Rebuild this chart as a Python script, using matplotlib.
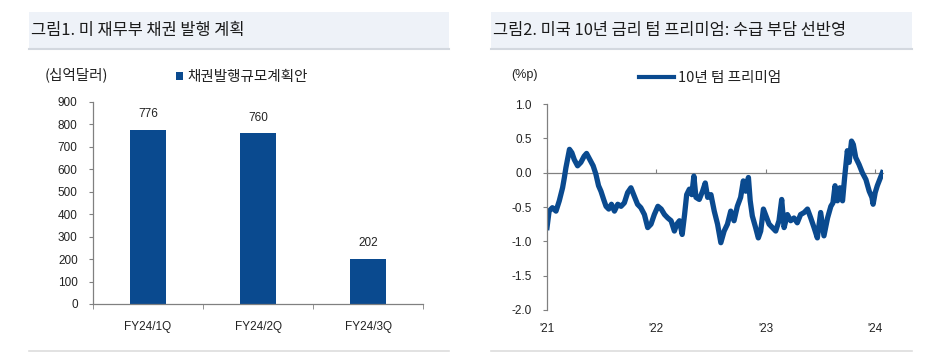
import numpy as np
import pandas as pd
import matplotlib
matplotlib.use('Agg')
import matplotlib.pyplot as plt
from matplotlib.patches import Rectangle, Patch
from matplotlib.lines import Line2D

plt.rcParams['font.family'] = ['Liberation Sans', 'Noto Sans CJK KR', 'DejaVu Sans']
KR = ['Noto Sans CJK KR', 'DejaVu Sans']

# left chart: treasury issuance plan (bil. USD)
quarters = ['FY24/1Q', 'FY24/2Q', 'FY24/3Q']
issuance = [776, 760, 202]

# right chart: 10y term premium (%p)
tp_dates = ['2021-01-01', '2021-01-08', '2021-01-19', '2021-01-31', '2021-02-11', '2021-02-22',
            '2021-02-28', '2021-03-05', '2021-03-17', '2021-03-25', '2021-04-02', '2021-04-13',
            '2021-04-24', '2021-05-05', '2021-05-13', '2021-05-24', '2021-06-04', '2021-06-13',
            '2021-06-22', '2021-06-30', '2021-07-09', '2021-07-17', '2021-07-26', '2021-08-04',
            '2021-08-14', '2021-08-25', '2021-09-05', '2021-09-16', '2021-09-27', '2021-10-08',
            '2021-10-19', '2021-10-30', '2021-11-10', '2021-11-22', '2021-12-03', '2021-12-14',
            '2021-12-25', '2022-01-06', '2022-01-17', '2022-01-28', '2022-02-08', '2022-02-19',
            '2022-03-02', '2022-03-10', '2022-03-19', '2022-03-28', '2022-04-05', '2022-04-12',
            '2022-04-21', '2022-04-29', '2022-05-06', '2022-05-13', '2022-05-24', '2022-06-04',
            '2022-06-13', '2022-06-21', '2022-07-02', '2022-07-13', '2022-07-24', '2022-08-04',
            '2022-08-15', '2022-08-26', '2022-09-06', '2022-09-17', '2022-09-28', '2022-10-09',
            '2022-10-18', '2022-10-26', '2022-11-04', '2022-11-10', '2022-11-17', '2022-11-28',
            '2022-12-07', '2022-12-15', '2022-12-24', '2023-01-12', '2023-01-23', '2023-02-03',
            '2023-02-14', '2023-02-23', '2023-03-03', '2023-03-14', '2023-03-25', '2023-04-05',
            '2023-04-16', '2023-04-27', '2023-05-09', '2023-05-20', '2023-05-31', '2023-06-11',
            '2023-06-22', '2023-07-03', '2023-07-14', '2023-07-26', '2023-08-06', '2023-08-13',
            '2023-08-20', '2023-08-28', '2023-09-05', '2023-09-14', '2023-09-21', '2023-09-30',
            '2023-10-06', '2023-10-14', '2023-10-20', '2023-10-28', '2023-11-08', '2023-11-19',
            '2023-12-01', '2023-12-12', '2023-12-21', '2023-12-25', '2024-01-01', '2024-01-08',
            '2024-01-16', '2024-01-25']
tp_values = [-0.80, -0.56, -0.51, -0.56, -0.41, -0.22,
             -0.07, 0.07, 0.34, 0.29, 0.19, 0.10,
             0.15, 0.24, 0.28, 0.19, 0.10, -0.02,
             -0.19, -0.27, -0.39, -0.49, -0.53, -0.46,
             -0.56, -0.46, -0.49, -0.44, -0.29, -0.22,
             -0.34, -0.46, -0.51, -0.61, -0.80, -0.75,
             -0.61, -0.49, -0.53, -0.61, -0.66, -0.70,
             -0.85, -0.75, -0.70, -0.90, -0.61, -0.32,
             -0.24, -0.32, -0.05, -0.36, -0.39, -0.27,
             -0.15, -0.36, -0.32, -0.56, -0.75, -1.02,
             -0.85, -0.75, -0.56, -0.70, -0.49, -0.36,
             -0.12, -0.27, -0.07, -0.41, -0.63, -0.80,
             -0.95, -0.85, -0.53, -0.75, -0.80, -0.85,
             -0.70, -0.39, -0.80, -0.61, -0.70, -0.66,
             -0.73, -0.61, -0.58, -0.53, -0.66, -0.80,
             -0.95, -0.58, -0.92, -0.66, -0.49, -0.44,
             -0.19, -0.41, -0.22, -0.41, -0.07, 0.32,
             0.15, 0.46, 0.41, 0.22, 0.12, 0.00,
             -0.10, -0.27, -0.36, -0.46, -0.29, -0.19,
             -0.10, 0.00]
year_ticks = ['2021-01-01', '2022-01-01', '2023-01-01', '2024-01-01']
year_labels = ["'21", "'22", "'23", "'24"]

blue = '#0a4a8f'
axis_gray = '#808080'
text_col = '#222222'

W, H = 932, 352
fig = plt.figure(figsize=(W / 100, H / 100), dpi=100)


def px(x0, y0, x1, y1):
    # pixel box -> figure fraction rect
    return [x0 / W, 1 - y1 / H, (x1 - x0) / W, (y1 - y0) / H]


# title bands and separators
for (bx0, bx1, title) in [(29, 449, '그림1. 미 재무부 채권 발행 계획'),
                          (491, 912, '그림2. 미국 10년 금리 텀 프리미엄: 수급 부담 선반영')]:
    fig.patches.append(Rectangle((bx0 / W, 1 - 48 / H), (bx1 - bx0) / W, 36 / H,
                                 transform=fig.transFigure, facecolor='#eef2f8', edgecolor='none'))
    fig.add_artist(Line2D([bx0 / W, bx1 / W], [1 - 49 / H] * 2, color='#d3d8df', lw=1.5))
    fig.add_artist(Line2D([bx0 / W, bx1 / W], [1 - 350.5 / H] * 2, color='#dddddd', lw=1.2))
    fig.text((bx0 + 2) / W, 1 - 30.5 / H, title, family=KR, fontsize=11.8, color='#1a1a1a',
             va='center', ha='left')

# ---- left: bar chart
ax1 = fig.add_axes(px(93, 102, 423, 304))
x = np.arange(len(quarters))
bars = ax1.bar(x, issuance, width=0.32, color=blue)
for b, v in zip(bars, issuance):
    ax1.annotate(str(v), (b.get_x() + b.get_width() / 2, v), xytext=(0, 7),
                 textcoords='offset points', ha='center', va='bottom', fontsize=8.5, color=text_col)
ax1.set_xlim(-0.5, len(quarters) - 0.5)
ax1.set_ylim(0, 900)
ax1.set_yticks(np.arange(0, 901, 100))
ax1.set_xticks(x)
ax1.set_xticklabels(quarters)
ax1.set_xticks(np.arange(-0.5, len(quarters), 1), minor=True)
ax1.tick_params(axis='x', which='major', length=0, pad=12, labelsize=8.5, labelcolor=text_col)
ax1.tick_params(axis='x', which='minor', length=3.5, color=axis_gray, direction='out')
ax1.tick_params(axis='y', length=3, color=axis_gray, pad=8, labelsize=8.5, labelcolor=text_col)
for s in ['top', 'right']:
    ax1.spines[s].set_visible(False)
for s in ['left', 'bottom']:
    ax1.spines[s].set_color(axis_gray)
    ax1.spines[s].set_linewidth(0.9)

fig.text(45 / W, 1 - 75 / H, '(십억달러)', family=KR, fontsize=10.5, color=text_col, va='center')
fig.legend(handles=[Patch(facecolor=blue, edgecolor='none', label='채권발행규모계획안')],
           loc='center left', bbox_to_anchor=(163 / W, 1 - 77 / H), frameon=False,
           handlelength=0.5, handleheight=0.5, handletextpad=0.25,
           prop={'family': KR, 'size': 10.5}, labelcolor=text_col)

# ---- right: term premium line
ax2 = fig.add_axes(px(547, 104, 883, 310))
dates = pd.to_datetime(tp_dates)
ax2.plot(dates, tp_values, color=blue, lw=3.8, solid_joinstyle='round')
ax2.set_xlim(pd.Timestamp('2021-01-01'), pd.Timestamp('2024-01-27'))
ax2.set_ylim(-2.0, 1.0)
ax2.set_yticks(np.arange(-2.0, 1.01, 0.5))
ax2.yaxis.set_major_formatter(plt.FuncFormatter(lambda v, p: f'{v:.1f}'))
ax2.set_xticks(pd.to_datetime(year_ticks))
ax2.set_xticklabels(year_labels)
ax2.spines['bottom'].set_position(('data', 0))
ax2.tick_params(axis='x', direction='in', length=3, color=axis_gray, pad=108,
                labelsize=8.5, labelcolor=text_col)
ax2.tick_params(axis='y', length=3, color=axis_gray, pad=8, labelsize=8.5, labelcolor=text_col)
for s in ['top', 'right']:
    ax2.spines[s].set_visible(False)
for s in ['left', 'bottom']:
    ax2.spines[s].set_color(axis_gray)
    ax2.spines[s].set_linewidth(0.9)
ax2.spines['bottom'].set_zorder(0.5)

fig.text(511 / W, 1 - 75 / H, '(%p)', fontsize=9, color=text_col, va='center')
fig.legend(handles=[Line2D([], [], color=blue, lw=3, label='10년 텀 프리미엄')],
           loc='center left', bbox_to_anchor=(626 / W, 1 - 78 / H), frameon=False,
           handlelength=2.4, handletextpad=0.3,
           prop={'family': KR, 'size': 10.5}, labelcolor=text_col)

fig.savefig('out.png', dpi=100)
